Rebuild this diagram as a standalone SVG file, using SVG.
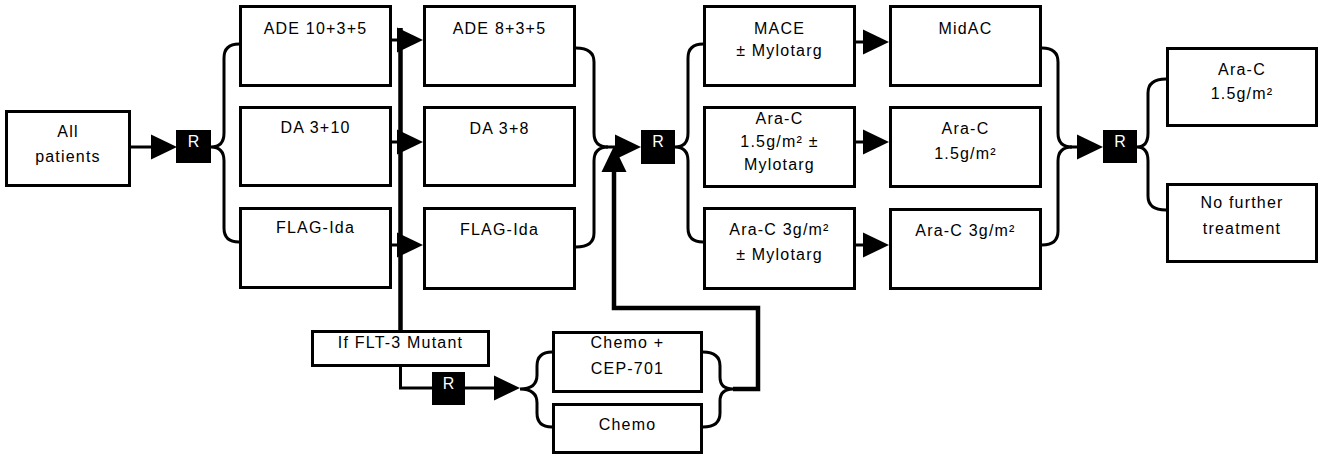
<svg xmlns="http://www.w3.org/2000/svg" width="1330" height="463" viewBox="0 0 1330 463">
<style>
.box{fill:#fff;stroke:#000;stroke-width:3}
.rbox{fill:#000}
.t{font-family:"Liberation Sans",Arial,sans-serif;font-size:16px;letter-spacing:1.2px;fill:#000;text-anchor:middle}
.rt{font-family:"Liberation Sans",Arial,sans-serif;font-size:16px;fill:#fff;text-anchor:middle}
.c{fill:none;stroke:#000;stroke-width:3}
.ct{fill:none;stroke:#000;stroke-width:4.5}
</style>
<defs>
<marker id="ah" markerUnits="userSpaceOnUse" markerWidth="27" markerHeight="25" refX="20" refY="12.5" orient="auto" overflow="visible">
<path d="M0,0 L26,12.5 L0,25 Z" fill="#000"/>
</marker>
</defs>
<rect width="1330" height="463" fill="#fff"/>
<g id="connectors">
<line class="c" x1="131" y1="147" x2="171" y2="147" marker-end="url(#ah)"/>
<path class="c" d="M239,44 Q224,44 224,58 V133 Q224,147 211,147 Q224,147 224,161 V228 Q224,242 239,242"/>
<line class="ct" x1="400.5" y1="28" x2="400.5" y2="331"/>
<line class="c" x1="392" y1="40" x2="417" y2="40" marker-end="url(#ah)"/>
<line class="c" x1="392" y1="142" x2="417" y2="142" marker-end="url(#ah)"/>
<line class="c" x1="392" y1="245" x2="417" y2="245" marker-end="url(#ah)"/>
<path class="c" d="M576,48 Q594,48 594,62 V133 Q594,147 608,147 M576,247 Q594,247 594,233 V161 Q594,147 608,147"/>
<line class="c" x1="606" y1="147" x2="635" y2="147" marker-end="url(#ah)"/>
<path class="ct" d="M733,389 H758 V308 H614 V152" marker-end="url(#ah)"/>
<path class="c" d="M703,44 Q688,44 688,58 V133 Q688,147 675,147 Q688,147 688,161 V228 Q688,242 703,242"/>
<line class="c" x1="856" y1="42" x2="883" y2="42" marker-end="url(#ah)"/>
<line class="c" x1="856" y1="142" x2="883" y2="142" marker-end="url(#ah)"/>
<line class="c" x1="856" y1="245" x2="883" y2="245" marker-end="url(#ah)"/>
<path class="c" d="M1042,48 Q1058,48 1058,62 V133 Q1058,147 1072,147 M1042,245 Q1058,245 1058,231 V161 Q1058,147 1072,147"/>
<line class="c" x1="1070" y1="147" x2="1097" y2="147" marker-end="url(#ah)"/>
<path class="c" d="M1166,79 Q1148,79 1148,93 V133 Q1148,147 1137,147 Q1148,147 1148,161 V196 Q1148,210 1166,210"/>
<path class="c" d="M400.5,367 V388 H432"/>
<line class="c" x1="465" y1="388" x2="514" y2="388" marker-end="url(#ah)"/>
<path class="c" d="M552,352 Q537,352 537,366 V375 Q537,389 520,389 Q537,389 537,403 V413 Q537,427 552,427"/>
<path class="c" d="M703,352 Q720,352 720,366 V377 Q720,389 733,389 Q720,389 720,401 V413 Q720,427 703,427"/>
</g>
<g id="all-patients">
<rect class="box" x="6.5" y="111.5" width="123" height="74"/>
<text class="t" x="68" y="137">All</text>
<text class="t" x="68" y="162">patients</text>
</g>
<g id="r1"><rect class="rbox" x="176" y="130" width="35" height="33"/><text class="rt" x="193.5" y="147">R</text></g>
<g id="ade10">
<rect class="box" x="240.5" y="6.5" width="150" height="79"/>
<text class="t" x="315.5" y="34">ADE 10+3+5</text>
</g>
<g id="da310">
<rect class="box" x="240.5" y="107.5" width="150" height="78"/>
<text class="t" x="315.5" y="133">DA 3+10</text>
</g>
<g id="flagida1">
<rect class="box" x="240.5" y="208.5" width="150" height="79"/>
<text class="t" x="315.5" y="233">FLAG-Ida</text>
</g>
<g id="ade8">
<rect class="box" x="424.5" y="6.5" width="150" height="79"/>
<text class="t" x="499.5" y="34">ADE 8+3+5</text>
</g>
<g id="da38">
<rect class="box" x="424.5" y="107.5" width="150" height="78"/>
<text class="t" x="499.5" y="134">DA 3+8</text>
</g>
<g id="flagida2">
<rect class="box" x="424.5" y="208.5" width="150" height="80"/>
<text class="t" x="499.5" y="235">FLAG-Ida</text>
</g>
<g id="r2"><rect class="rbox" x="641" y="130" width="34" height="34"/><text class="rt" x="658" y="147">R</text></g>
<g id="mace">
<rect class="box" x="704.5" y="6.5" width="150" height="79"/>
<text class="t" x="779.5" y="34">MACE</text>
<text class="t" x="779.5" y="56">± Mylotarg</text>
</g>
<g id="arac15m">
<rect class="box" x="704.5" y="107.5" width="150" height="79"/>
<text class="t" x="779.5" y="124">Ara-C</text>
<text class="t" x="779.5" y="147">1.5g/m² ±</text>
<text class="t" x="779.5" y="170">Mylotarg</text>
</g>
<g id="arac3m">
<rect class="box" x="704.5" y="208.5" width="150" height="80"/>
<text class="t" x="779.5" y="235">Ara-C 3g/m²</text>
<text class="t" x="779.5" y="260">± Mylotarg</text>
</g>
<g id="midac">
<rect class="box" x="890.5" y="6.5" width="150" height="79"/>
<text class="t" x="965.5" y="34">MidAC</text>
</g>
<g id="arac15">
<rect class="box" x="890.5" y="107.5" width="150" height="79"/>
<text class="t" x="965.5" y="134">Ara-C</text>
<text class="t" x="965.5" y="159">1.5g/m²</text>
</g>
<g id="arac3">
<rect class="box" x="890.5" y="209.5" width="150" height="79"/>
<text class="t" x="965.5" y="236">Ara-C 3g/m²</text>
</g>
<g id="r3"><rect class="rbox" x="1103" y="130" width="34" height="33"/><text class="rt" x="1120" y="147">R</text></g>
<g id="arac15-final">
<rect class="box" x="1167.5" y="48.5" width="149" height="77"/>
<text class="t" x="1242" y="75">Ara-C</text>
<text class="t" x="1242" y="99">1.5g/m²</text>
</g>
<g id="no-further">
<rect class="box" x="1167.5" y="184.5" width="149" height="77"/>
<text class="t" x="1242" y="208">No further</text>
<text class="t" x="1242" y="234">treatment</text>
</g>
<g id="flt3">
<rect class="box" x="312.5" y="331.5" width="176" height="34"/>
<text class="t" x="400.5" y="348">If FLT-3 Mutant</text>
</g>
<g id="r4"><rect class="rbox" x="432" y="372" width="33" height="33"/><text class="rt" x="448.5" y="389">R</text></g>
<g id="chemo-cep">
<rect class="box" x="553.5" y="332.5" width="148" height="59"/>
<text class="t" x="627.5" y="348">Chemo +</text>
<text class="t" x="627.5" y="374">CEP-701</text>
</g>
<g id="chemo">
<rect class="box" x="553.5" y="404.5" width="148" height="48"/>
<text class="t" x="627.5" y="430">Chemo</text>
</g>
</svg>
